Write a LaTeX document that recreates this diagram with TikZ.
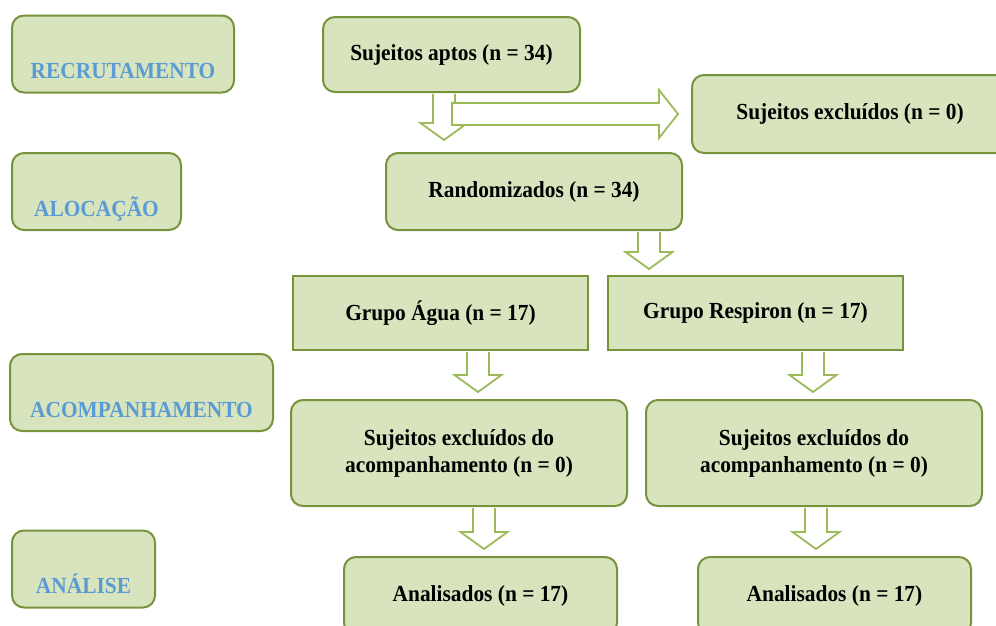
\documentclass[tikz,border=0pt]{standalone}
\usepackage{fontspec}
\setmainfont{Liberation Serif}[FakeStretch=0.93]
\usetikzlibrary{calc}
\definecolor{verdeborda}{HTML}{77933C}
\definecolor{verdefundo}{HTML}{D7E4BD}
\definecolor{verdeseta}{HTML}{9BBB59}
\definecolor{azulfase}{HTML}{5B9BD5}
\tikzset{every node/.style={font=\fontsize{23}{27}\selectfont\bfseries},
  caixa/.style={draw=verdeborda,fill=verdefundo,line width=2pt,rounded corners=12pt,align=center,inner sep=0pt},
  grupo/.style={caixa,rounded corners=0pt},
  fase/.style={caixa,text=azulfase,text height=58pt,text depth=9pt,inner ysep=5pt},
  seta/.style={draw=verdeseta,fill=white,line width=1.8pt,line join=miter}}
% seta de bloco para baixo: [folga] origem, destino, x do eixo
\newcommand{\setabaixo}[4][7]{%
  \draw[seta] let \p1=(#4,0 |- #2.south), \p2=(#4,0 |- #3.north) in
    (\x1-11pt,\y1-1pt) -- (\x1-11pt,\y2+#1pt+17pt) -- (\x1-23.5pt,\y2+#1pt+17pt) -- (\x1,\y2+#1pt)
    -- (\x1+23.5pt,\y2+#1pt+17pt) -- (\x1+11pt,\y2+#1pt+17pt) -- (\x1+11pt,\y1-1pt);}

\begin{document}
\begin{tikzpicture}[x=1pt,y=-1pt]
\useasboundingbox (0,0) rectangle (996,625);
\clip (0,0) rectangle (996,625);
% fases do estudo
\node[fase,minimum width=222pt] (recrutamento) at (123,54) {RECRUTAMENTO};
\node[fase,minimum width=169pt] (alocacao) at (96.5,191.5) {ALOCAÇÃO};
\node[fase,minimum width=263pt] (acompanhamento) at (141.5,392.5) {ACOMPANHAMENTO};
\node[fase,minimum width=143pt] (analise) at (83.5,569) {ANÁLISE};
% fluxo dos sujeitos
\node[caixa,minimum width=257pt,minimum height=75pt] (aptos) at (451.5,54.5) {Sujeitos aptos (n = 34)};
\node[caixa,minimum width=316pt,minimum height=78pt] (excluidos) at (850,114) {Sujeitos excluídos (n = 0)};
\node[caixa,minimum width=296pt,minimum height=77pt] (randomizados) at (534,191.5) {Randomizados (n = 34)};
\node[grupo,minimum width=295pt,minimum height=74pt] (agua) at (440.5,313) {Grupo Água (n = 17)};
\node[grupo,minimum width=295pt,minimum height=74pt] (respiron) at (755.5,313) {Grupo Respiron (n = 17)};
\node[caixa,minimum width=336pt,minimum height=106pt] (exclagua) at (459,453) {Sujeitos excluídos do\\acompanhamento (n = 0)};
\node[caixa,minimum width=336pt,minimum height=106pt] (exclresp) at (814,453) {Sujeitos excluídos do\\acompanhamento (n = 0)};
\node[caixa,minimum width=273pt,minimum height=78pt] (analagua) at (480.5,596) {Analisados (n = 17)};
\node[caixa,minimum width=273pt,minimum height=78pt] (analresp) at (834.5,596) {Analisados (n = 17)};
% setas
\setabaixo[12]{aptos}{randomizados}{444}
\draw[seta] let \p1=(452,0 |- excluidos.west), \p2=(excluidos.west) in
  (\x1,\y1+11pt) -- (\x2-32pt,\y1+11pt) -- (\x2-32pt,\y1+24pt) -- (\x2-13pt,\y1)
  -- (\x2-32pt,\y1-24pt) -- (\x2-32pt,\y1-11pt) -- (\x1,\y1-11pt) -- cycle;
\setabaixo[6]{randomizados}{respiron}{649}
\setabaixo{agua}{exclagua}{478}
\setabaixo{respiron}{exclresp}{813}
\setabaixo{exclagua}{analagua}{484}
\setabaixo{exclresp}{analresp}{816}
\end{tikzpicture}
\end{document}
